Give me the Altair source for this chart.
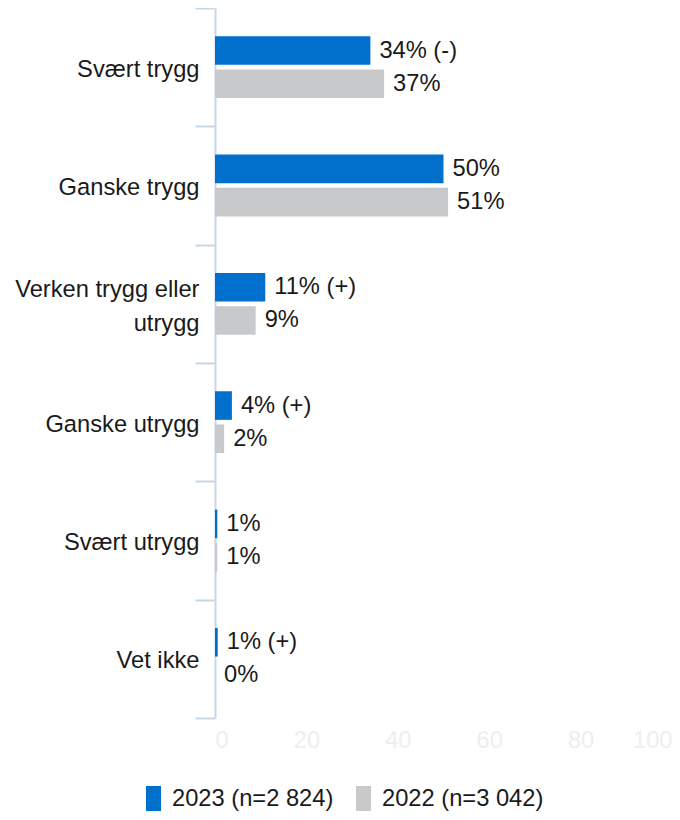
import altair as alt
import pandas as pd

categories = ["Svært trygg", "Ganske trygg", "Verken trygg eller utrygg",
              "Ganske utrygg", "Svært utrygg", "Vet ikke"]
series = ["2023 (n=2 824)", "2022 (n=3 042)"]
values_2023 = [34, 50, 11, 3.7, 0.5, 0.6]
values_2022 = [37, 51, 8.9, 2, 0.5, 0]
labels_2023 = ["34% (-)", "50%", "11% (+)", "4% (+)", "1%", "1% (+)"]
labels_2022 = ["37%", "51%", "9%", "2%", "1%", "0%"]
colors = ["#0070CC", "#C8C9CB"]
x_ticks = [0, 20, 40, 60, 80, 100]

rows = []
for c, v, l in zip(categories, values_2023, labels_2023):
    rows.append({"cat": c, "series": series[0], "value": v, "label": l})
for c, v, l in zip(categories, values_2022, labels_2022):
    rows.append({"cat": c, "series": series[1], "value": v, "label": l})
df = pd.DataFrame(rows)

FONT = "Liberation Sans"
FS = 23.7
AXIS_COL = "#C8D6E9"
WRAPPED = "Verken trygg eller utrygg"

y_enc = alt.Y(
    "cat:N", sort=categories, title=None,
    scale=alt.Scale(paddingInner=0, paddingOuter=0),
    axis=alt.Axis(
        domainColor=AXIS_COL, domainWidth=2, tickColor=AXIS_COL, tickWidth=2,
        tickSize=20, tickBand="extent", labelPadding=-4, labelFontSize=FS,
        labelColor="#1a1a1a", labelFont=FONT, labelLimit=300, labelLineHeight=34,
        labelOffset={"condition": {"test": f"datum.value == '{WRAPPED}'", "value": -14},
                     "value": 2},
        labelExpr=f"datum.value == '{WRAPPED}' ? ['Verken trygg eller', 'utrygg'] : datum.value",
    ),
)
yoff_enc = alt.YOffset(
    "series:N", sort=series,
    scale=alt.Scale(paddingInner=0.14, paddingOuter=0.85),
)
x_enc = alt.X(
    "value:Q", title=None,
    scale=alt.Scale(domain=[0, 100], nice=False),
    axis=alt.Axis(values=x_ticks, domain=False, ticks=False, grid=False,
                  labelColor="#EEEEEE", labelFontSize=FS, labelFont=FONT,
                  labelPadding=10),
)

bars = alt.Chart(df).mark_bar().encode(
    x=x_enc, y=y_enc, yOffset=yoff_enc,
    color=alt.Color(
        "series:N", sort=series, title=None,
        scale=alt.Scale(domain=series, range=colors),
        legend=alt.Legend(
            orient="none", legendX=-74, legendY=778, direction="horizontal",
            symbolType="M-0.6,-1H0.6V1H-0.6Z", symbolSize=625, symbolStrokeWidth=0,
            labelFontSize=FS, labelFont=FONT, labelColor="#1a1a1a", labelLimit=400,
            labelOffset=6, columnPadding=17, padding=0,
        ),
    ),
)

text = alt.Chart(df).mark_text(
    align="left", baseline="middle", dx=9, fontSize=FS, font=FONT, color="#1a1a1a"
).encode(
    x=alt.X("value:Q", scale=alt.Scale(domain=[0, 100], nice=False)),
    y=alt.Y("cat:N", sort=categories),
    yOffset=alt.YOffset("series:N", sort=series),
    text="label:N",
)

chart = (bars + text).properties(
    width=457, height=710,
    autosize=alt.AutoSizeParams(type="none"),
    padding={"left": 207, "top": 0, "right": 0, "bottom": 94},
).configure_view(stroke=None)

chart.save("out.html", embed_options={"renderer": "svg", "actions": False})
